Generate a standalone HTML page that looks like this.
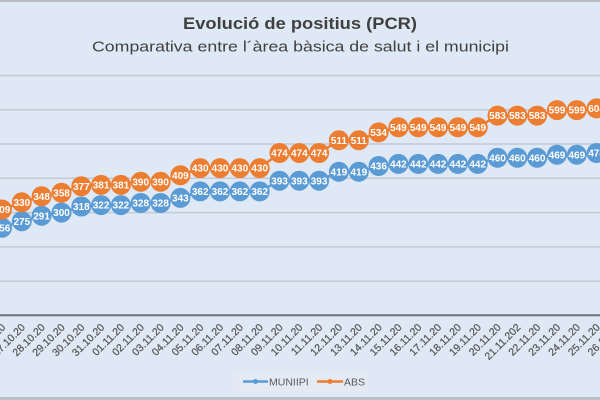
<!DOCTYPE html>
<html><head><meta charset="utf-8"><style>
html,body{margin:0;padding:0;width:600px;height:400px;overflow:hidden;background:#dee9f5;}
svg{display:block;}
text{font-family:"Liberation Sans",sans-serif;}
</style></head><body>
<svg width="600" height="400" viewBox="0 0 600 400" xmlns="http://www.w3.org/2000/svg">
<rect x="0" y="0" width="600" height="400" fill="#dee9f5"/>
<rect x="0" y="0" width="600" height="2" fill="#b8bcc1"/>
<rect x="0" y="397" width="600" height="3" fill="#bcc0c5"/>
<text x="300" y="29" text-anchor="middle" font-size="17" font-weight="bold" fill="#404040" textLength="234" lengthAdjust="spacingAndGlyphs">Evolució de positius (PCR)</text>
<text x="300.5" y="51.5" text-anchor="middle" font-size="14.5" fill="#404040" textLength="417" lengthAdjust="spacingAndGlyphs">Comparativa entre l´àrea bàsica de salut i el municipi</text>
<g stroke="#c2cad4" stroke-width="1.5">
<line x1="0" y1="75.5" x2="600" y2="75.5"/>
<line x1="0" y1="109.8" x2="600" y2="109.8"/>
<line x1="0" y1="144" x2="600" y2="144"/>
<line x1="0" y1="178.3" x2="600" y2="178.3"/>
<line x1="0" y1="212.6" x2="600" y2="212.6"/>
<line x1="0" y1="246.9" x2="600" y2="246.9"/>
<line x1="0" y1="281.2" x2="600" y2="281.2"/>
</g>
<line x1="0" y1="315.3" x2="600" y2="315.3" stroke="#6f7378" stroke-width="2"/>
<g font-size="10.5" fill="#595959" stroke="#595959" stroke-width="0.25">
<text transform="translate(6,328) rotate(-45)" text-anchor="end">26.10.20</text>
<text transform="translate(25.8,328) rotate(-45)" text-anchor="end">27.10.20</text>
<text transform="translate(45.6,328) rotate(-45)" text-anchor="end">28.10.20</text>
<text transform="translate(65.5,328) rotate(-45)" text-anchor="end">29.10.20</text>
<text transform="translate(85.3,328) rotate(-45)" text-anchor="end">30.10.20</text>
<text transform="translate(105.1,328) rotate(-45)" text-anchor="end">31.10.20</text>
<text transform="translate(124.9,328) rotate(-45)" text-anchor="end">01.11.20</text>
<text transform="translate(144.7,328) rotate(-45)" text-anchor="end">02.11.20</text>
<text transform="translate(164.6,328) rotate(-45)" text-anchor="end">03.11.20</text>
<text transform="translate(184.4,328) rotate(-45)" text-anchor="end">04.11.20</text>
<text transform="translate(204.2,328) rotate(-45)" text-anchor="end">05.11.20</text>
<text transform="translate(224,328) rotate(-45)" text-anchor="end">06.11.20</text>
<text transform="translate(243.8,328) rotate(-45)" text-anchor="end">07.11.20</text>
<text transform="translate(263.7,328) rotate(-45)" text-anchor="end">08.11.20</text>
<text transform="translate(283.5,328) rotate(-45)" text-anchor="end">09.11.20</text>
<text transform="translate(303.3,328) rotate(-45)" text-anchor="end">10.11.20</text>
<text transform="translate(323.1,328) rotate(-45)" text-anchor="end">11.11.20</text>
<text transform="translate(342.9,328) rotate(-45)" text-anchor="end">12.11.20</text>
<text transform="translate(362.8,328) rotate(-45)" text-anchor="end">13.11.20</text>
<text transform="translate(382.6,328) rotate(-45)" text-anchor="end">14.11.20</text>
<text transform="translate(402.4,328) rotate(-45)" text-anchor="end">15.11.20</text>
<text transform="translate(422.2,328) rotate(-45)" text-anchor="end">16.11.20</text>
<text transform="translate(442,328) rotate(-45)" text-anchor="end">17.11.20</text>
<text transform="translate(461.9,328) rotate(-45)" text-anchor="end">18.11.20</text>
<text transform="translate(481.7,328) rotate(-45)" text-anchor="end">19.11.20</text>
<text transform="translate(501.5,328) rotate(-45)" text-anchor="end">20.11.20</text>
<text transform="translate(521.3,328) rotate(-45)" text-anchor="end">21.11.202</text>
<text transform="translate(541.1,328) rotate(-45)" text-anchor="end">22.11.20</text>
<text transform="translate(561,328) rotate(-45)" text-anchor="end">23.11.20</text>
<text transform="translate(580.8,328) rotate(-45)" text-anchor="end">24.11.20</text>
<text transform="translate(600.6,328) rotate(-45)" text-anchor="end">25.11.20</text>
<text transform="translate(620.4,328) rotate(-45)" text-anchor="end">26.11.20</text>
</g>
<polyline fill="none" stroke="#5b9bd5" stroke-width="2.5" points="2,227.7 21.8,221.2 41.6,215.7 61.5,212.6 81.3,206.5 101.1,205.1 120.9,205.1 140.7,203 160.6,203 180.4,197.9 200.2,191.4 220,191.4 239.8,191.4 259.7,191.4 279.5,180.7 299.3,180.7 319.1,180.7 338.9,171.8 358.8,171.8 378.6,166 398.4,163.9 418.2,163.9 438,163.9 457.9,163.9 477.7,163.9 497.5,157.8 517.3,157.8 537.1,157.8 557,154.7 576.8,154.7 596.6,153"/>
<polyline fill="none" stroke="#ed7d31" stroke-width="2.5" points="2,209.5 21.8,202.3 41.6,196.2 61.5,192.7 81.3,186.2 101.1,184.9 120.9,184.9 140.7,181.8 160.6,181.8 180.4,175.3 200.2,168.1 220,168.1 239.8,168.1 259.7,168.1 279.5,153 299.3,153 319.1,153 338.9,140.3 358.8,140.3 378.6,132.4 398.4,127.3 418.2,127.3 438,127.3 457.9,127.3 477.7,127.3 497.5,115.6 517.3,115.6 537.1,115.6 557,110.1 576.8,110.1 596.6,108.4"/>
<g fill="#5b9bd5">
<circle cx="2" cy="227.7" r="10"/><circle cx="21.8" cy="221.2" r="10"/><circle cx="41.6" cy="215.7" r="10"/><circle cx="61.5" cy="212.6" r="10"/><circle cx="81.3" cy="206.5" r="10"/><circle cx="101.1" cy="205.1" r="10"/><circle cx="120.9" cy="205.1" r="10"/><circle cx="140.7" cy="203" r="10"/><circle cx="160.6" cy="203" r="10"/><circle cx="180.4" cy="197.9" r="10"/><circle cx="200.2" cy="191.4" r="10"/><circle cx="220" cy="191.4" r="10"/><circle cx="239.8" cy="191.4" r="10"/><circle cx="259.7" cy="191.4" r="10"/><circle cx="279.5" cy="180.7" r="10"/><circle cx="299.3" cy="180.7" r="10"/><circle cx="319.1" cy="180.7" r="10"/><circle cx="338.9" cy="171.8" r="10"/><circle cx="358.8" cy="171.8" r="10"/><circle cx="378.6" cy="166" r="10"/><circle cx="398.4" cy="163.9" r="10"/><circle cx="418.2" cy="163.9" r="10"/><circle cx="438" cy="163.9" r="10"/><circle cx="457.9" cy="163.9" r="10"/><circle cx="477.7" cy="163.9" r="10"/><circle cx="497.5" cy="157.8" r="10"/><circle cx="517.3" cy="157.8" r="10"/><circle cx="537.1" cy="157.8" r="10"/><circle cx="557" cy="154.7" r="10"/><circle cx="576.8" cy="154.7" r="10"/><circle cx="596.6" cy="153" r="10"/>
</g>
<g fill="#ed7d31">
<circle cx="2" cy="209.5" r="10"/><circle cx="21.8" cy="202.3" r="10"/><circle cx="41.6" cy="196.2" r="10"/><circle cx="61.5" cy="192.7" r="10"/><circle cx="81.3" cy="186.2" r="10"/><circle cx="101.1" cy="184.9" r="10"/><circle cx="120.9" cy="184.9" r="10"/><circle cx="140.7" cy="181.8" r="10"/><circle cx="160.6" cy="181.8" r="10"/><circle cx="180.4" cy="175.3" r="10"/><circle cx="200.2" cy="168.1" r="10"/><circle cx="220" cy="168.1" r="10"/><circle cx="239.8" cy="168.1" r="10"/><circle cx="259.7" cy="168.1" r="10"/><circle cx="279.5" cy="153" r="10"/><circle cx="299.3" cy="153" r="10"/><circle cx="319.1" cy="153" r="10"/><circle cx="338.9" cy="140.3" r="10"/><circle cx="358.8" cy="140.3" r="10"/><circle cx="378.6" cy="132.4" r="10"/><circle cx="398.4" cy="127.3" r="10"/><circle cx="418.2" cy="127.3" r="10"/><circle cx="438" cy="127.3" r="10"/><circle cx="457.9" cy="127.3" r="10"/><circle cx="477.7" cy="127.3" r="10"/><circle cx="497.5" cy="115.6" r="10"/><circle cx="517.3" cy="115.6" r="10"/><circle cx="537.1" cy="115.6" r="10"/><circle cx="557" cy="110.1" r="10"/><circle cx="576.8" cy="110.1" r="10"/><circle cx="596.6" cy="108.4" r="10"/>
</g>
<g font-size="10" font-weight="bold" fill="#ffffff" text-anchor="middle">
<text x="2" y="231.3">256</text><text x="21.8" y="224.8">275</text><text x="41.6" y="219.3">291</text><text x="61.5" y="216.2">300</text><text x="81.3" y="210.1">318</text><text x="101.1" y="208.7">322</text><text x="120.9" y="208.7">322</text><text x="140.7" y="206.6">328</text><text x="160.6" y="206.6">328</text><text x="180.4" y="201.5">343</text><text x="200.2" y="195">362</text><text x="220" y="195">362</text><text x="239.8" y="195">362</text><text x="259.7" y="195">362</text><text x="279.5" y="184.3">393</text><text x="299.3" y="184.3">393</text><text x="319.1" y="184.3">393</text><text x="338.9" y="175.4">419</text><text x="358.8" y="175.4">419</text><text x="378.6" y="169.6">436</text><text x="398.4" y="167.5">442</text><text x="418.2" y="167.5">442</text><text x="438" y="167.5">442</text><text x="457.9" y="167.5">442</text><text x="477.7" y="167.5">442</text><text x="497.5" y="161.4">460</text><text x="517.3" y="161.4">460</text><text x="537.1" y="161.4">460</text><text x="557" y="158.3">469</text><text x="576.8" y="158.3">469</text><text x="596.6" y="156.6">474</text>
<text x="2" y="213.1">309</text><text x="21.8" y="205.9">330</text><text x="41.6" y="199.8">348</text><text x="61.5" y="196.3">358</text><text x="81.3" y="189.8">377</text><text x="101.1" y="188.5">381</text><text x="120.9" y="188.5">381</text><text x="140.7" y="185.4">390</text><text x="160.6" y="185.4">390</text><text x="180.4" y="178.9">409</text><text x="200.2" y="171.7">430</text><text x="220" y="171.7">430</text><text x="239.8" y="171.7">430</text><text x="259.7" y="171.7">430</text><text x="279.5" y="156.6">474</text><text x="299.3" y="156.6">474</text><text x="319.1" y="156.6">474</text><text x="338.9" y="143.9">511</text><text x="358.8" y="143.9">511</text><text x="378.6" y="136">534</text><text x="398.4" y="130.9">549</text><text x="418.2" y="130.9">549</text><text x="438" y="130.9">549</text><text x="457.9" y="130.9">549</text><text x="477.7" y="130.9">549</text><text x="497.5" y="119.2">583</text><text x="517.3" y="119.2">583</text><text x="537.1" y="119.2">583</text><text x="557" y="113.7">599</text><text x="576.8" y="113.7">599</text><text x="596.6" y="112">604</text>
</g>
<rect x="233" y="372" width="135" height="20" fill="#e3eaf3"/>
<line x1="243" y1="381.5" x2="268" y2="381.5" stroke="#5b9bd5" stroke-width="2.5"/>
<circle cx="255.5" cy="381.5" r="2.5" fill="#5b9bd5"/>
<text x="269" y="385.5" font-size="10.5" fill="#595959">MUNIIPI</text>
<line x1="317" y1="381.5" x2="343" y2="381.5" stroke="#ed7d31" stroke-width="2.5"/>
<circle cx="330" cy="381.5" r="2.5" fill="#ed7d31"/>
<text x="344" y="385.5" font-size="10.5" fill="#595959">ABS</text>
</svg>
</body></html>
